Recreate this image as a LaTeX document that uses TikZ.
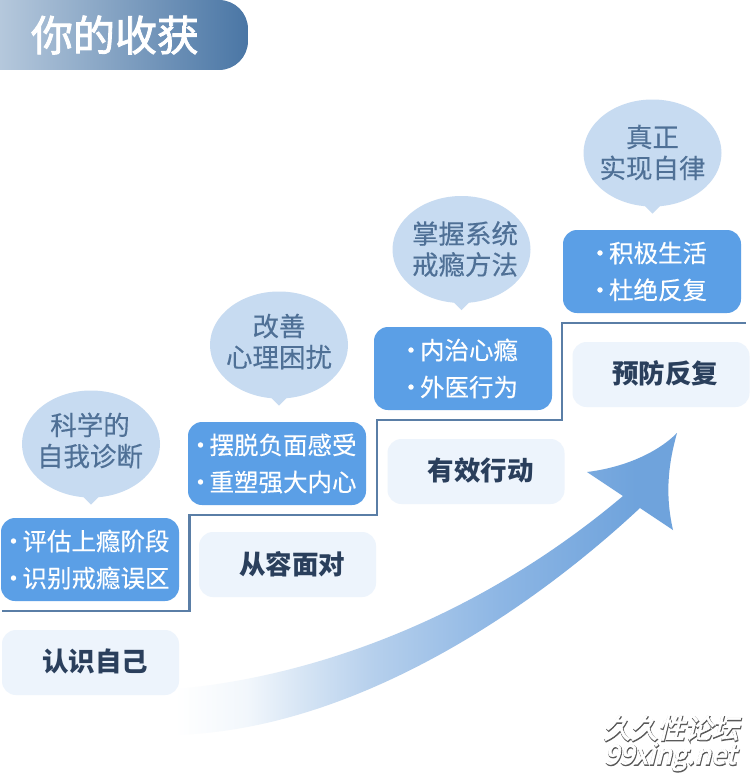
\documentclass[tikz,border=0pt]{standalone}
\usepackage{fontspec}
\usepackage{xcolor}
\usepackage{tikz}
\usetikzlibrary{calc, shapes.geometric}
\setmainfont{Noto Sans CJK SC}
\newfontfamily\softfont{Noto Sans CJK SC}[FakeBold=0.25]
\newfontfamily\labelfont{Noto Sans CJK SC}[FakeBold=2]
\newfontfamily\markfont{Noto Sans CJK SC}[FakeSlant=0.25, FakeBold=2.5]
\newfontfamily\markfat{Noto Sans CJK SC}[FakeSlant=0.25, FakeBold=6]
\definecolor{kbubble}{HTML}{C7DBF1}
\definecolor{kbubtext}{HTML}{4F7096}
\definecolor{kblue}{HTML}{5B9FE6}
\definecolor{kpale}{HTML}{EDF4FC}
\definecolor{kstair}{HTML}{5A7EA6}
\definecolor{kdark}{HTML}{2A3F5C}
\definecolor{khead}{HTML}{4A76A5}
\definecolor{kheadl}{HTML}{B5C8DC}
\definecolor{karrow}{HTML}{6FA3DC}
\definecolor{kmid}{HTML}{8DB6E4}
\definecolor{kfade}{HTML}{B5CFEC}
\definecolor{kfaint}{HTML}{D8E6F5}
\definecolor{kpalest}{HTML}{F2F7FC}
\pgfdeclarehorizontalshading{arrowfade}{100bp}{
  color(0bp)=(white); color(26bp)=(white); color(33bp)=(kpalest); color(38bp)=(kfaint);
  color(45.5bp)=(kfade); color(57.7bp)=(kmid);
  color(71bp)=(karrow); color(100bp)=(karrow)}
\newcommand{\taskdot}{\makebox[12pt][r]{·\hspace{-3.25pt}}}
\tikzset{
  bubble/.style={ellipse, fill=kbubble, minimum width=138pt, minimum height=107pt, inner sep=0pt},
  bubtext/.style={align=center, text=kbubtext, inner sep=0pt, yshift=3.5pt, font=\softfont\fontsize{26.5}{31}\selectfont},
  bluebox/.style={rectangle, fill=kblue, rounded corners=14pt, minimum width=178pt, minimum height=83pt,
    inner sep=0pt, align=left, text=white, font=\softfont\fontsize{24.5}{37}\selectfont},
  palebox/.style={rectangle, fill=kpale, rounded corners=14pt, minimum width=177pt, minimum height=65pt, inner sep=0pt},
  stagelabel/.style={font=\fontsize{26.5}{30}\selectfont\bfseries, text=kdark, inner sep=0pt},
}
\begin{document}
\begin{tikzpicture}[x=1pt, y=-1pt]
\useasboundingbox (0,0) rectangle (750,776);
\fill[white] (0,0) rectangle (750,776);
% header
\shade[left color=kheadl, right color=khead]
  (0,0) -- (219,0) .. controls (235,0) and (248,13) .. (248,29) -- (248,41)
  .. controls (248,57) and (235,70) .. (219,70) -- (0,70) -- cycle;
\node[font=\labelfont\fontsize{42}{46}\selectfont, text=white, inner sep=0pt] (title) at (115,35) {你的收获};
% stairs
\draw[kstair, line width=2.5pt]
  (2,611) -- (189.5,611) -- (189.5,515) -- (377,515) -- (377,420) -- (562,420) -- (562,323) -- (746,323);
% sweeping arrow
\shade[shading=arrowfade]
  (165,690) .. controls (300,680) and (470,625) .. (623,496) -- (587,472)
  .. controls (620,468) and (655,455) .. (677,433) .. controls (668,465) and (665,495) .. (673,530)
  -- (640,508) .. controls (520,620) and (340,735) .. (165,735) -- cycle;
% bubbles
\node[bubble] (bubA) at (91,444) {};
\node[bubble] (bubB) at (279,345) {};
\node[bubble] (bubC) at (461.5,249.5) {};
\node[bubble] (bubD) at (652.5,153) {};
\fill[kbubble] ($(bubA.south)+(-9,-2)$) -- ++(9,9) -- ++(9,-9) -- cycle;
\fill[kbubble] ($(bubB.south)+(-9,-2)$) -- ++(9,9) -- ++(9,-9) -- cycle;
\fill[kbubble] ($(bubC.south)+(-9,-2)$) -- ++(9,9) -- ++(9,-9) -- cycle;
\fill[kbubble] ($(bubD.south)+(-9,-2)$) -- ++(9,9) -- ++(9,-9) -- cycle;
\node[bubtext] (wishA) at ($(bubA)+(-1,0)$) {科学的\\自我诊断};
\node[bubtext] (wishB) at (bubB) {改善\\心理困扰};
\node[bubtext] (wishC) at ($(bubC)+(3.5,3)$) {掌握系统\\戒瘾方法};
\node[bubtext] (wishD) at ($(bubD)+(0,3)$) {真正\\实现自律};
% blue boxes
\node[bluebox] (taskA) at (90,559.5) {\taskdot 评估上瘾阶段\\\taskdot 识别戒瘾误区};
\node[bluebox] (taskB) at (277,463.5) {\taskdot 摆脱负面感受\\\taskdot 重塑强大内心};
\node[bluebox] (taskC) at (463,368.5) {\taskdot 内治心瘾\\\taskdot 外医行为};
\node[bluebox] (taskD) at (652,271.5) {\taskdot 积极生活\\\taskdot 杜绝反复};
% pale boxes
\node[palebox] (stageA) at (90.5,662.5) {};
\node[palebox] (stageB) at (287.5,564.5) {};
\node[palebox] (stageC) at (476,471.5) {};
\node[palebox] (stageD) at (661,374.5) {};
\node[stagelabel] (nameA) at (95,661) {认识自己};
\node[stagelabel] (nameB) at (292,564) {从容面对};
\node[stagelabel] (nameC) at (480.5,470) {有效行动};
\node[stagelabel] (nameD) at (665,373) {预防反复};
% site mark
\node[font=\markfat\fontsize{27}{30}\selectfont, text=black!65, inner sep=0pt] (siteS) at (671.5,729) {久久性论坛};
\node[font=\markfont\fontsize{27}{30}\selectfont, text=white, inner sep=0pt] (site) at (671,728) {久久性论坛};
\node[font=\markfat\fontsize{27}{30}\selectfont, text=black!65, inner sep=0pt] (netS) at (670.5,758) {99xing.net};
\node[font=\markfont\fontsize{27}{30}\selectfont, text=white, inner sep=0pt] (net) at (670,757) {99xing.net};
\end{tikzpicture}
\end{document}
